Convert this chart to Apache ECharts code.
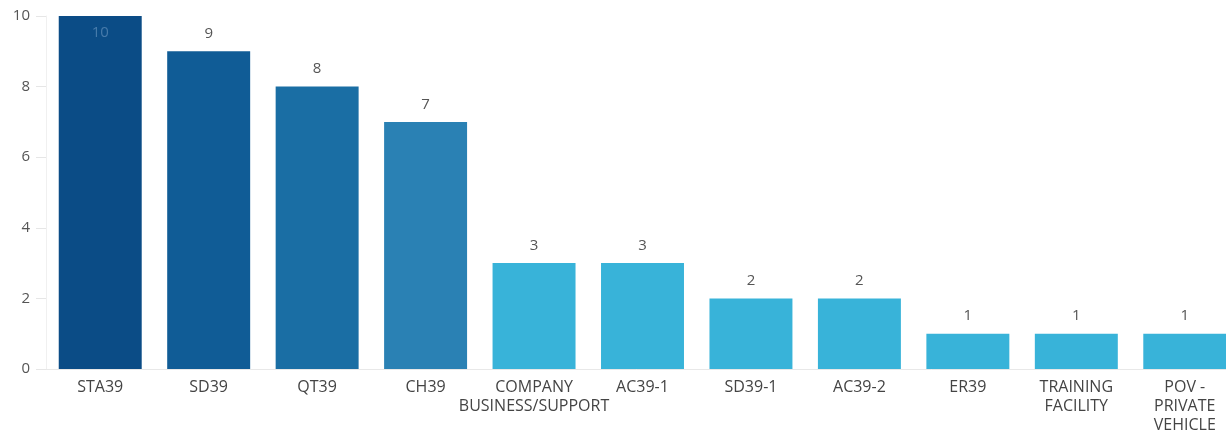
<!DOCTYPE html>
<html>
<head>
<meta charset="utf-8">
<script src="https://cdn.jsdelivr.net/npm/echarts@6/dist/echarts.min.js"></script>
<style>
html,body{margin:0;padding:0;background:#fff;}
#chart{width:1226px;height:439px;}
</style>
</head>
<body>
<div id="chart"></div>
<script>
const categories = ['STA39','SD39','QT39','CH39','COMPANY\nBUSINESS/SUPPORT','AC39-1','SD39-1','AC39-2','ER39','TRAINING\nFACILITY','POV -\nPRIVATE\nVEHICLE'];
const values = [10, 9, 8, 7, 3, 3, 2, 2, 1, 1, 1];
const barColors = ['#0b4c86','#105c96','#1a6ea4','#2a81b4','#38b3d9','#38b3d9','#38b3d9','#38b3d9','#38b3d9','#38b3d9','#38b3d9'];
const yTicks = [0, 2, 4, 6, 8, 10];

const chart = echarts.init(document.getElementById('chart'));
chart.setOption({
  animation: false,
  grid: { left: 46, width: 1193, top: 16, bottom: 70, containLabel: false, outerBoundsMode: 'none' },
  xAxis: {
    type: 'category',
    data: categories,
    axisLine: { show: true, lineStyle: { color: '#e8e8e8' } },
    axisTick: { show: false },
    axisLabel: { interval: 0, margin: 9, color: '#444', fontFamily: 'Open Sans', fontSize: 16, lineHeight: 19 }
  },
  yAxis: {
    type: 'value',
    min: yTicks[0],
    max: yTicks[yTicks.length - 1],
    interval: 2,
    axisLine: { show: true, lineStyle: { color: '#f0f0f0' } },
    axisTick: { show: true, length: 10, lineStyle: { color: '#e6e6e6' } },
    splitLine: { show: false },
    axisLabel: { margin: 16, color: '#555', fontFamily: 'Open Sans', fontSize: 15 }
  },
  series: [{
    type: 'bar',
    barCategoryGap: '23.5%',
    data: values.map((v, i) => ({
      value: v,
      itemStyle: { color: barColors[i] },
      label: i === 0 ? { position: 'insideTop', distance: 9, color: 'rgba(120,160,200,0.55)' } : undefined
    })),
    label: { show: true, position: 'top', distance: 10, color: '#555', fontFamily: 'Open Sans', fontSize: 15 }
  }]
});
</script>
</body>
</html>
